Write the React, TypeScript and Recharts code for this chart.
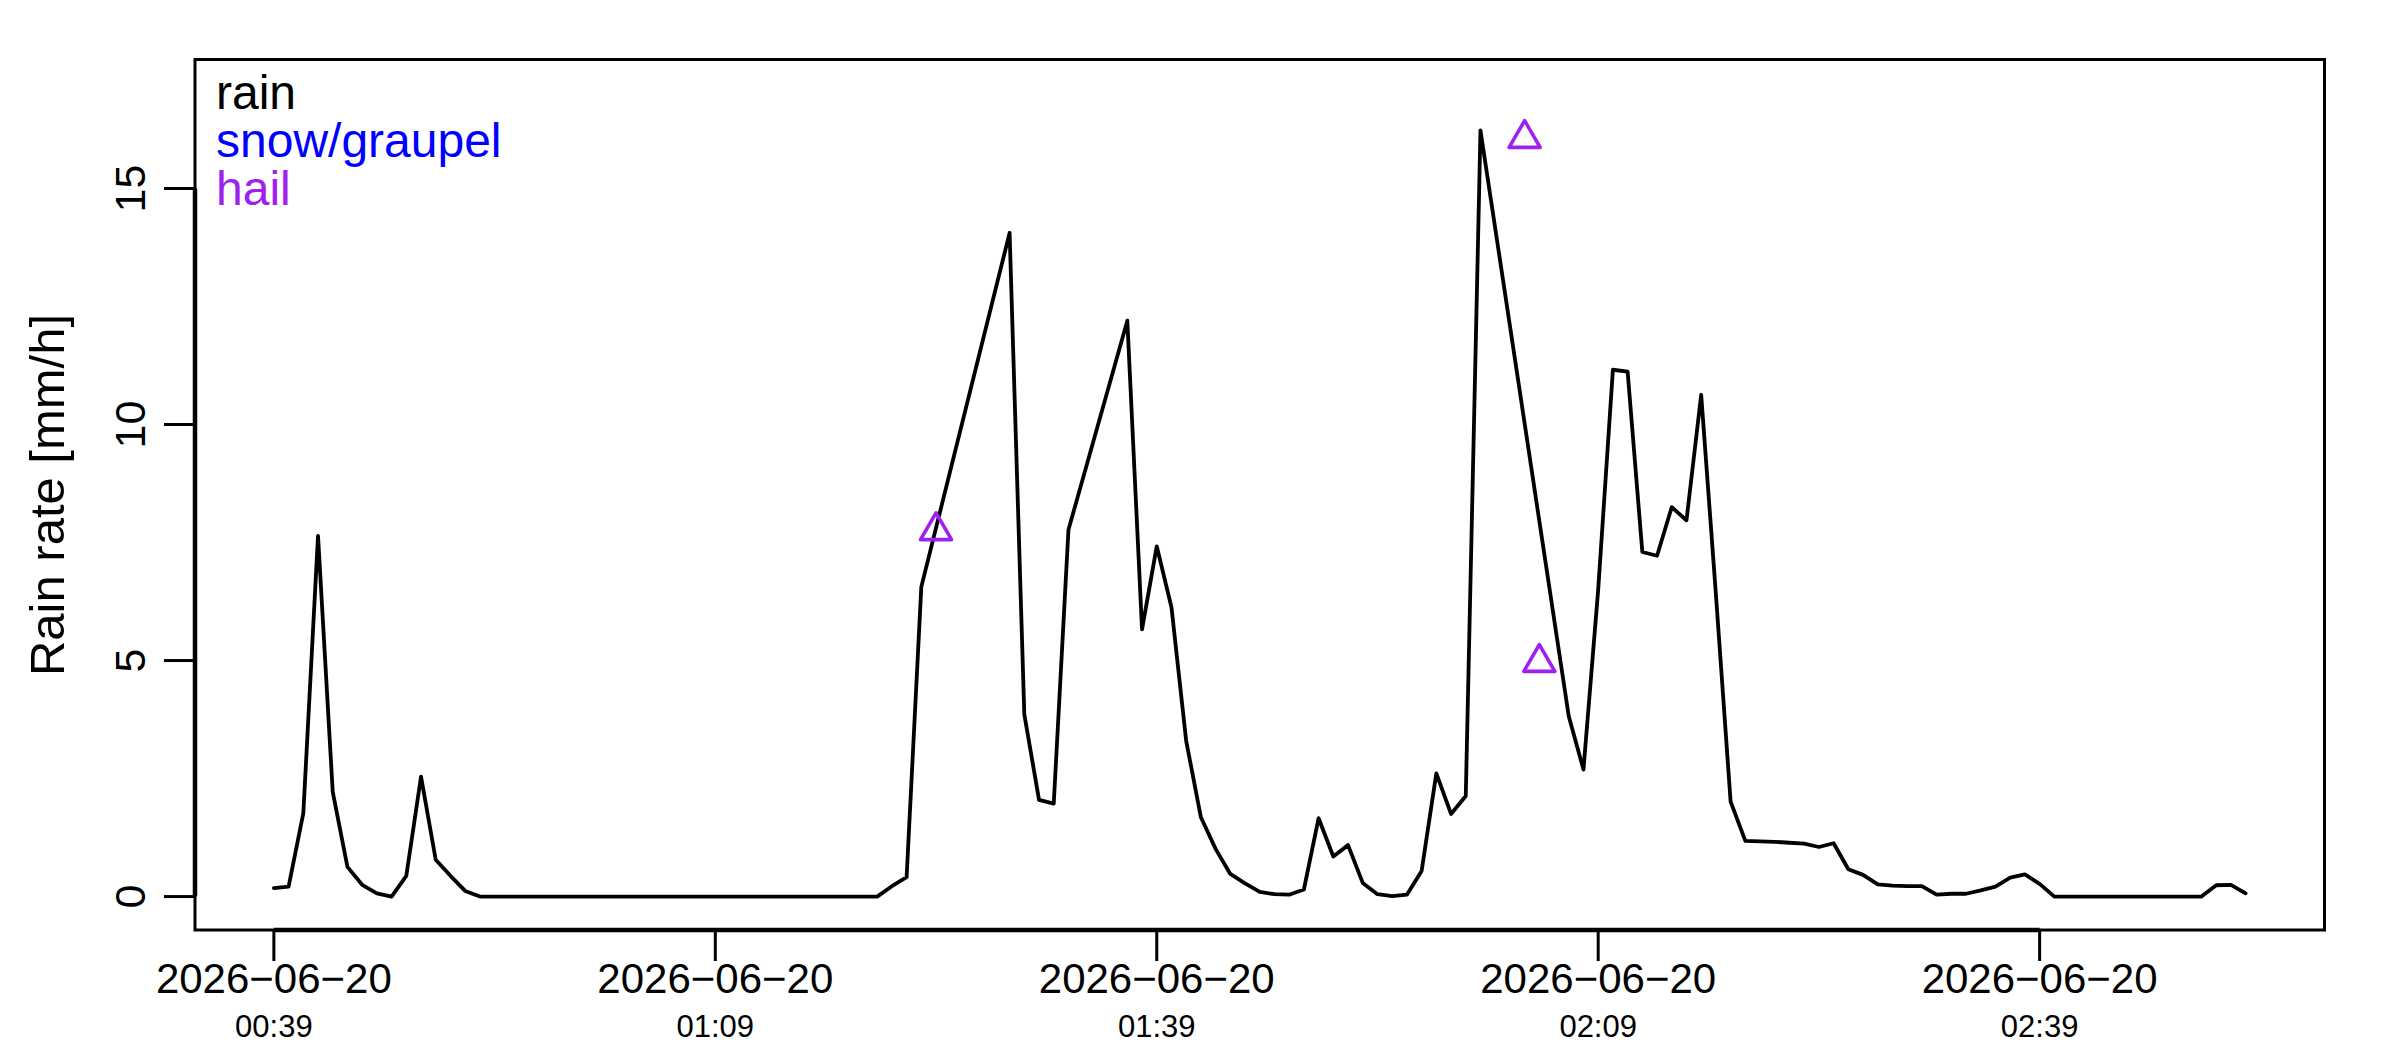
import {
  ComposedChart, Legend, Line, ReferenceArea, ReferenceLine, Scatter, XAxis, YAxis,
} from "recharts";

// rain rate per minute from 00:39 (index = minutes after 00:39), null = no value
const rainRate: (number | null)[] = [
  0.18, 0.21, 1.76, 7.64, 2.22, 0.63, 0.25, 0.07, 0.0, 0.44,
  2.54, 0.78, 0.44, 0.12, 0, 0, 0, 0, 0, 0,
  0, 0, 0, 0, 0, 0, 0, 0, 0, 0,
  0, 0, 0, 0, 0, 0, 0, 0, 0, 0,
  0, 0, 0.22, 0.41, 6.56, null, null, null, null, null,
  14.06, 3.86, 2.05, 1.97, 7.77, null, null, null, 12.2, 5.66,
  7.42, 6.13, 3.3, 1.68, 1.01, 0.48, 0.28, 0.1, 0.05, 0.04,
  0.15, 1.66, 0.85, 1.09, 0.29, 0.05, 0.01, 0.04, 0.54, 2.61,
  1.75, 2.13, 16.23, null, null, null, null, null, 3.82, 2.69,
  6.5, 11.16, 11.12, 7.3, 7.22, 8.25, 7.97, 10.63, 6.4, 2.01,
  1.18, 1.17, 1.16, 1.14, 1.12, 1.05, 1.13, 0.58, 0.46, 0.26,
  0.23, 0.22, 0.22, 0.04, 0.06, 0.06, 0.13, 0.21, 0.4, 0.47,
  0.27, 0, 0, 0, 0, 0, 0, 0, 0, 0,
  0, 0, 0.24, 0.25, 0.07,
];

const hailMinutes = [45, 85, 86];
const hailRate = [7.75, 16.06, 4.96];

const xTickMinutes = [0, 30, 60, 90, 120];
const xTickDates = ["2026−06−20", "2026−06−20", "2026−06−20", "2026−06−20", "2026−06−20"];
const xTickTimes = ["00:39", "01:09", "01:39", "02:09", "02:39"];
const yTicks = [0, 5, 10, 15];

const legendLabels = ["rain", "snow/graupel", "hail"];
const legendColors = ["#000000", "#0000ff", "#a020f0"];

const FONT = "'Liberation Sans', Arial, Helvetica, sans-serif";
const X_DOMAIN: [number, number] = [-5.36, 139.36];
const Y_DOMAIN: [number, number] = [-0.708, 17.73];

function DateTick({ x, y, payload }: any) {
  const i = xTickMinutes.indexOf(payload.value);
  return (
    <g>
      <text x={x} y={y + 32} textAnchor="middle" fontSize={42} fontFamily={FONT} fill="#000">
        {xTickDates[i]}
      </text>
      <text x={x} y={y + 76} textAnchor="middle" fontSize={31} fontFamily={FONT} fill="#000">
        {xTickTimes[i]}
      </text>
    </g>
  );
}

function RateTick({ x, y, payload }: any) {
  const bx = x - 19;
  return (
    <text x={bx} y={y} transform={`rotate(-90 ${bx} ${y})`} textAnchor="middle"
          fontSize={43} fontFamily={FONT} fill="#000">
      {payload.value}
    </text>
  );
}

function HailMark({ cx, cy }: any) {
  const xc = 15.5, r = 17.9, yc = 8.95;
  return (
    <polygon points={`${cx},${cy - r} ${cx + xc},${cy + yc} ${cx - xc},${cy + yc}`}
             fill="none" stroke="#a020f0" strokeWidth={3.6} strokeLinejoin="round" />
  );
}

export default function App() {
  const rainRows = rainRate.map((v, i) => ({ t: i, v }));
  const hailRows = hailMinutes.map((t, i) => ({ t, v: hailRate[i] }));
  return (
    <div style={{ position: "absolute", left: 0, top: 0, width: 2400, height: 1050, background: "#fff" }}>
      <ComposedChart width={2400} height={1050} margin={{ top: 59.6, right: 75.5, bottom: 0, left: 0 }}>
        <XAxis dataKey="t" type="number" domain={X_DOMAIN} allowDataOverflow ticks={xTickMinutes}
               interval={0} height={120} axisLine={false} stroke="#000" tickSize={31} tickMargin={0}
               tickLine={{ stroke: "#000", strokeWidth: 3 }} tick={<DateTick />} />
        <YAxis dataKey="v" type="number" domain={Y_DOMAIN} allowDataOverflow ticks={yTicks}
               interval={0} width={195} axisLine={false} stroke="#000" tickSize={31} tickMargin={0}
               tickLine={{ stroke: "#000", strokeWidth: 3 }} tick={<RateTick />}
               label={{
                 content: () => (
                   <text x={64} y={495} transform="rotate(-90 64 495)" textAnchor="middle"
                         fontSize={49} fontFamily={FONT} fill="#000">
                     Rain rate [mm/h]
                   </text>
                 ),
               }} />
        <ReferenceArea x1={X_DOMAIN[0]} x2={X_DOMAIN[1]} y1={Y_DOMAIN[0]} y2={Y_DOMAIN[1]}
                       fill="none" fillOpacity={0} stroke="#000" strokeWidth={3} ifOverflow="visible" />
        <ReferenceLine segment={[{ x: 0, y: Y_DOMAIN[0] }, { x: 120, y: Y_DOMAIN[0] }]}
                       stroke="#000" strokeWidth={4.5} ifOverflow="visible" />
        <ReferenceLine segment={[{ x: X_DOMAIN[0], y: 0 }, { x: X_DOMAIN[0], y: 15 }]}
                       stroke="#000" strokeWidth={4.5} ifOverflow="visible" />
        <Line data={rainRows} dataKey="v" type="linear" connectNulls dot={false} activeDot={false}
              stroke="#000" strokeWidth={3.8} strokeLinejoin="round" strokeLinecap="round"
              isAnimationActive={false} />
        <Scatter data={hailRows} dataKey="v" shape={<HailMark />} isAnimationActive={false} />
        <Legend layout="vertical" align="center" verticalAlign="middle"
                wrapperStyle={{ position: "absolute", left: 216, top: 69, width: "auto", height: "auto" }}
                content={() => (
                  <div style={{ fontSize: 48, lineHeight: "48px", fontFamily: FONT }}>
                    {legendLabels.map((l, i) => (
                      <div key={l} style={{ color: legendColors[i] }}>{l}</div>
                    ))}
                  </div>
                )} />
      </ComposedChart>
    </div>
  );
}
